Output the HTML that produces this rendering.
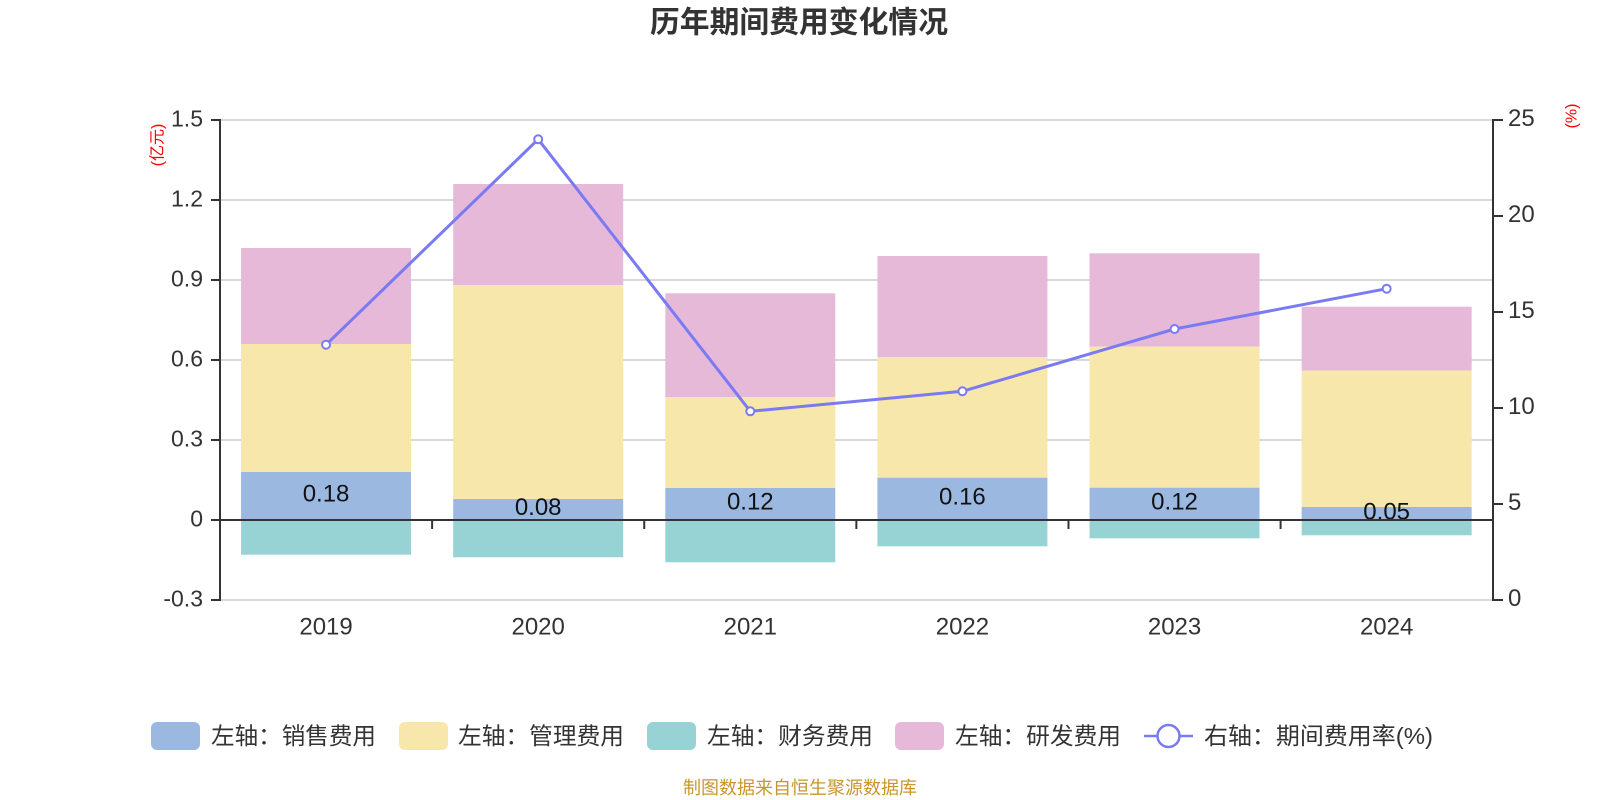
<!DOCTYPE html>
<html><head><meta charset="utf-8"><style>
html,body{margin:0;padding:0;background:#fff;width:1600px;height:800px;overflow:hidden}
svg{display:block}
text{font-family:"Liberation Sans","Noto Sans CJK SC",sans-serif}
</style></head><body>
<svg width="1600" height="800" viewBox="0 0 1600 800" xmlns="http://www.w3.org/2000/svg">
<!-- title -->
<text x="799" y="23" font-size="30" font-weight="bold" fill="#333" text-anchor="middle" dominant-baseline="central" textLength="298" lengthAdjust="spacingAndGlyphs">历年期间费用变化情况</text>
<!-- gridlines -->
<g stroke="#ccc" stroke-width="1.5">
<line x1="220" y1="120" x2="1493" y2="120"/>
<line x1="220" y1="200" x2="1493" y2="200"/>
<line x1="220" y1="280" x2="1493" y2="280"/>
<line x1="220" y1="360" x2="1493" y2="360"/>
<line x1="220" y1="440" x2="1493" y2="440"/>
<line x1="220" y1="600" x2="1493" y2="600"/>
</g>
<!-- bars: R&D (pink) -->
<g fill="#e7b9d8">
<rect x="241.06" y="248" width="170" height="96"/>
<rect x="453.18" y="184" width="170" height="101"/>
<rect x="665.3" y="293.3" width="170" height="103.7"/>
<rect x="877.42" y="256" width="170" height="101"/>
<rect x="1089.54" y="253.3" width="170" height="93.4"/>
<rect x="1301.66" y="306.7" width="170" height="64"/>
</g>
<!-- management (yellow) -->
<g fill="#f8e7aa">
<rect x="241.06" y="344" width="170" height="128"/>
<rect x="453.18" y="285" width="170" height="214"/>
<rect x="665.3" y="397" width="170" height="91"/>
<rect x="877.42" y="357" width="170" height="120.7"/>
<rect x="1089.54" y="346.7" width="170" height="141"/>
<rect x="1301.66" y="370.7" width="170" height="136.3"/>
</g>
<!-- sales (blue) -->
<g fill="#9bb8e0">
<rect x="241.06" y="472" width="170" height="48"/>
<rect x="453.18" y="499" width="170" height="21"/>
<rect x="665.3" y="488" width="170" height="32"/>
<rect x="877.42" y="477.7" width="170" height="42.3"/>
<rect x="1089.54" y="487.7" width="170" height="32.3"/>
<rect x="1301.66" y="507" width="170" height="13"/>
</g>
<!-- sales labels -->
<g font-size="24" fill="#111" text-anchor="middle" dominant-baseline="central">
<text x="326.06" y="494">0.18</text>
<text x="538.18" y="507.5">0.08</text>
<text x="750.3" y="502">0.12</text>
<text x="962.42" y="497">0.16</text>
<text x="1174.54" y="502">0.12</text>
<text x="1386.66" y="512">0.05</text>
</g>
<!-- finance (teal) -->
<g fill="#97d3d4">
<rect x="241.06" y="520" width="170" height="34.7"/>
<rect x="453.18" y="520" width="170" height="37.3"/>
<rect x="665.3" y="520" width="170" height="42.3"/>
<rect x="877.42" y="520" width="170" height="26.3"/>
<rect x="1089.54" y="520" width="170" height="18.3"/>
<rect x="1301.66" y="520" width="170" height="15.3"/>
</g>
<!-- axes -->
<g stroke="#333" stroke-width="2">
<line x1="220" y1="119" x2="220" y2="601"/>
<line x1="1493" y1="119" x2="1493" y2="601"/>
<line x1="220" y1="520" x2="1493" y2="520"/>
<!-- left ticks -->
<line x1="211" y1="120" x2="220" y2="120"/>
<line x1="211" y1="200" x2="220" y2="200"/>
<line x1="211" y1="280" x2="220" y2="280"/>
<line x1="211" y1="360" x2="220" y2="360"/>
<line x1="211" y1="440" x2="220" y2="440"/>
<line x1="211" y1="520" x2="220" y2="520"/>
<line x1="211" y1="600" x2="220" y2="600"/>
<!-- right ticks -->
<line x1="1493" y1="120" x2="1503" y2="120"/>
<line x1="1493" y1="216" x2="1503" y2="216"/>
<line x1="1493" y1="312" x2="1503" y2="312"/>
<line x1="1493" y1="408" x2="1503" y2="408"/>
<line x1="1493" y1="504" x2="1503" y2="504"/>
<line x1="1493" y1="600" x2="1503" y2="600"/>
<!-- x ticks -->
<line x1="432.12" y1="520" x2="432.12" y2="529"/>
<line x1="644.24" y1="520" x2="644.24" y2="529"/>
<line x1="856.36" y1="520" x2="856.36" y2="529"/>
<line x1="1068.48" y1="520" x2="1068.48" y2="529"/>
<line x1="1280.6" y1="520" x2="1280.6" y2="529"/>
</g>
<!-- left axis labels -->
<g font-size="23" fill="#333" text-anchor="end" dominant-baseline="central">
<text x="203" y="118.5">1.5</text>
<text x="203" y="198.5">1.2</text>
<text x="203" y="278.5">0.9</text>
<text x="203" y="358.5">0.6</text>
<text x="203" y="438.5">0.3</text>
<text x="203" y="518.5">0</text>
<text x="203" y="598.5">-0.3</text>
</g>
<!-- right axis labels -->
<g font-size="24" fill="#333" text-anchor="start" dominant-baseline="central">
<text x="1508" y="118.5">25</text>
<text x="1508" y="214.5">20</text>
<text x="1508" y="310.5">15</text>
<text x="1508" y="406.5">10</text>
<text x="1508" y="502.5">5</text>
<text x="1508" y="598.5">0</text>
</g>
<!-- x labels -->
<g font-size="24" fill="#333" text-anchor="middle" dominant-baseline="central">
<text x="326.06" y="627">2019</text>
<text x="538.18" y="627">2020</text>
<text x="750.3" y="627">2021</text>
<text x="962.42" y="627">2022</text>
<text x="1174.54" y="627">2023</text>
<text x="1386.66" y="627">2024</text>
</g>
<!-- axis names -->
<text transform="translate(158,145) rotate(-90)" font-size="16" fill="#f00" text-anchor="middle" dominant-baseline="central">(亿元)</text>
<text transform="translate(1572,116) rotate(-90)" font-size="16" fill="#f00" text-anchor="middle" dominant-baseline="central">(%)</text>
<!-- line -->
<polyline points="326.06,344.7 538.18,139.3 750.3,411.3 962.42,391.3 1174.54,329 1386.66,288.7" fill="none" stroke="#7a7af2" stroke-width="3" stroke-linejoin="round"/>
<g fill="#fff" stroke="#7a7af2" stroke-width="2">
<circle cx="326.06" cy="344.7" r="4"/>
<circle cx="538.18" cy="139.3" r="4"/>
<circle cx="750.3" cy="411.3" r="4"/>
<circle cx="962.42" cy="391.3" r="4"/>
<circle cx="1174.54" cy="329" r="4"/>
<circle cx="1386.66" cy="288.7" r="4"/>
</g>
<!-- legend -->
<rect x="151" y="722" width="49" height="28" rx="6" fill="#9bb8e0"/>
<text x="211" y="736" font-size="23.5" fill="#333" dominant-baseline="central" textLength="165" lengthAdjust="spacingAndGlyphs">左轴：销售费用</text>
<rect x="399" y="722" width="49" height="28" rx="6" fill="#f8e7aa"/>
<text x="458" y="736" font-size="23.5" fill="#333" dominant-baseline="central" textLength="166" lengthAdjust="spacingAndGlyphs">左轴：管理费用</text>
<rect x="647" y="722" width="49" height="28" rx="6" fill="#97d3d4"/>
<text x="707" y="736" font-size="23.5" fill="#333" dominant-baseline="central" textLength="166" lengthAdjust="spacingAndGlyphs">左轴：财务费用</text>
<rect x="895" y="722" width="49" height="28" rx="6" fill="#e7b9d8"/>
<text x="955" y="736" font-size="23.5" fill="#333" dominant-baseline="central" textLength="166" lengthAdjust="spacingAndGlyphs">左轴：研发费用</text>
<line x1="1144" y1="736" x2="1193" y2="736" stroke="#7a7af2" stroke-width="2.5"/>
<circle cx="1168.5" cy="736" r="11" fill="#fff" stroke="#7a7af2" stroke-width="2.5"/>
<text x="1204" y="736" font-size="23.5" fill="#333" dominant-baseline="central" textLength="229" lengthAdjust="spacingAndGlyphs">右轴：期间费用率(%)</text>
<!-- footer -->
<text x="800" y="788" font-size="18" fill="#c8962e" text-anchor="middle" dominant-baseline="central" textLength="234" lengthAdjust="spacingAndGlyphs">制图数据来自恒生聚源数据库</text>
</svg>
</body></html>
